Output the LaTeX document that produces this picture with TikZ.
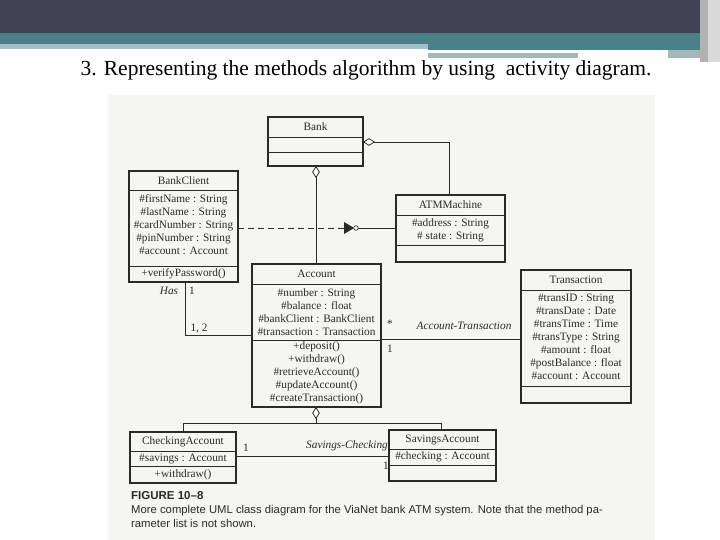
\documentclass[tikz,border=0pt]{standalone}
\usepackage{fontspec}
\setmainfont{Liberation Serif}
\setsansfont{Liberation Sans}
\usetikzlibrary{arrows.meta,shapes.geometric}
\definecolor{dark}{HTML}{404254}
\definecolor{teal}{HTML}{4A8088}
\definecolor{pale}{HTML}{A4C0C4}
\definecolor{grayb}{HTML}{A4B8BA}
\definecolor{scan}{HTML}{F5F5F2}
\definecolor{ink}{HTML}{2A2A2A}
\begin{document}
\begin{tikzpicture}[x=1pt,y=-1pt,
  cls/.style={draw=ink,line width=1.1pt},
  div/.style={draw=ink,line width=0.9pt},
  lnk/.style={draw=ink,line width=0.9pt},
  txt/.style={font=\fontsize{11.3}{13}\selectfont,text=ink,inner sep=0pt,align=center},
  lab/.style={font=\fontsize{11.3}{13}\selectfont\itshape,text=ink,inner sep=0pt},
  dia/.style={draw=ink,fill=white,line width=0.8pt,diamond,minimum size=1pt}]
\useasboundingbox (0,0) rectangle (720,540);
\fill[white] (0,0) rectangle (720,540);
% header
\fill[dark] (0,0) rectangle (720,33);
\fill[teal] (0,33) rectangle (720,44);
\fill[pale] (0,44) rectangle (428,49);
\fill[teal] (428,44) rectangle (705,50);
\fill[grayb] (428,53) rectangle (578,58);
\fill[grayb] (668,50) rectangle (705,58);
\fill[gray!60] (700,0) rectangle (720,62);
\fill[gray!30] (708,0) rectangle (720,62);
\node[font=\fontsize{21.5}{24}\selectfont,inner sep=0pt] (title) at (366,70) {3. Representing the methods algorithm by using\ \ activity diagram.};
% scan area
\fill[scan] (108,95) rectangle (655,540);
% Bank
\draw[cls] (268,117) rectangle (363,166);
\draw[div] (268,137) -- (363,137) (268,152) -- (363,152);
\node[txt] (bank) at (315.5,127) {Bank};
% BankClient
\draw[cls] (129,171) rectangle (238,282);
\draw[div] (129,190) -- (238,190) (129,266) -- (238,266);
\node[txt] (bc) at (183.5,181) {BankClient};
\node[txt,align=center] (bca) at (183.5,225) {\#firstName : String\\\#lastName : String\\\#cardNumber : String\\\#pinNumber : String\\\#account : Account};
\node[txt] (bcm) at (183.5,274) {+verifyPassword()};
% ATMMachine
\draw[cls] (396,195) rectangle (505,262);
\draw[div] (396,215) -- (505,215) (396,245) -- (505,245);
\node[txt] (atm) at (450.5,205) {ATMMachine};
\node[txt] (atma) at (450.5,230) {\#address : String\\\# state : String};
% Account
\draw[cls] (252,264) rectangle (381,407);
\draw[div] (252,284) -- (381,284) (252,340) -- (381,340);
\node[txt] (acc) at (316.5,274) {Account};
\node[txt] (acca) at (316.5,312) {\#number : String\\\#balance : float\\\#bankClient : BankClient\\\#transaction : Transaction};
\node[txt] (accm) at (316.5,373) {+deposit()\\+withdraw()\\\#retrieveAccount()\\\#updateAccount()\\\#createTransaction()};
% Transaction
\draw[cls] (521,270) rectangle (631,403);
\draw[div] (521,290) -- (631,290) (521,386) -- (631,386);
\node[txt] (tr) at (576,280) {Transaction};
\node[txt] (tra) at (576,337) {\#transID : String\\\#transDate : Date\\\#transTime : Time\\\#transType : String\\\#amount : float\\\#postBalance : float\\\#account : Account};
% CheckingAccount
\draw[cls] (130,432) rectangle (236,483);
\draw[div] (130,451) -- (236,451) (130,466) -- (236,466);
\node[txt] (ca) at (183,441.5) {CheckingAccount};
\node[txt] (caa) at (183,458.5) {\#savings : Account};
\node[txt] (cam) at (183,474.5) {+withdraw()};
% SavingsAccount
\draw[cls] (389,430) rectangle (496,481);
\draw[div] (389,449) -- (496,449) (389,465) -- (496,465);
\node[txt] (sa) at (442.5,439.5) {SavingsAccount};
\node[txt] (saa) at (442.5,457) {\#checking : Account};
% connectors
\coordinate (b1) at (316,166); \coordinate (a1) at (316,264);
\draw[lnk] (b1) -- (a1);
\node[dia,minimum width=7pt,minimum height=11pt,inner sep=0pt] (d1) at (316,172) {};
\coordinate (b2) at (363,142); \coordinate (m2) at (449,142); \coordinate (t2) at (449,195);
\draw[lnk] (b2) -- (m2) -- (t2);
\node[dia,minimum width=11pt,minimum height=7pt,inner sep=0pt] (d2) at (369,142) {};
\coordinate (c1) at (238,228); \coordinate (c2) at (346,228); \coordinate (c3) at (396,228);
\draw[lnk,dashed,dash pattern=on 6pt off 4pt] (c1) -- (c2);
\fill[ink] (344,222) -- (354,228) -- (344,234) -- cycle;
\draw[lnk] (358,228) -- (c3);
\draw[ink,fill=white,line width=0.7pt] (356,228) circle (2.3);
\coordinate (h1) at (185,282); \coordinate (h2) at (185,335); \coordinate (h3) at (252,335);
\draw[lnk] (h1) -- (h2) -- (h3);
\node[lab] (has) at (169,291) {Has};
\node[txt] (hm1) at (192,291) {1};
\node[txt] (hm2) at (199,329) {1, 2};
\coordinate (x1) at (381,339); \coordinate (x2) at (521,339);
\draw[lnk] (x1) -- (x2);
\node[txt] (st) at (390,324) {*};
\node[lab] (at) at (464,326) {Account-Transaction};
\node[txt] (one) at (390,349) {1};
\coordinate (g0) at (316,407); \coordinate (g1) at (316,423);
\coordinate (gl) at (183,423); \coordinate (gr) at (441,423);
\draw[lnk] (g0) -- (g1) (gl) -- (gr) (gl) -- (183,432) (gr) -- (441,430);
\node[dia,minimum width=7pt,minimum height=11pt,inner sep=0pt] (d3) at (316,413) {};
\coordinate (s1) at (236,456); \coordinate (s2) at (389,456);
\draw[lnk] (s1) -- (s2);
\node[txt] (so1) at (246,448) {1};
\node[lab] (sc) at (347,446) {Savings-Checking};
\node[txt] (so2) at (386,466) {1};
% caption
\node[font=\sffamily\bfseries\fontsize{11.5}{12}\selectfont,text=ink,anchor=west,inner sep=0pt] (fig) at (131,496) {FIGURE 10--8};
\node[font=\sffamily\fontsize{11.3}{14}\selectfont,text=ink,anchor=north west,align=left,inner sep=0pt] (cap) at (131,505) {More complete UML class diagram for the ViaNet bank ATM system. Note that the method pa-\\rameter list is not shown.};
\end{tikzpicture}
\end{document}
